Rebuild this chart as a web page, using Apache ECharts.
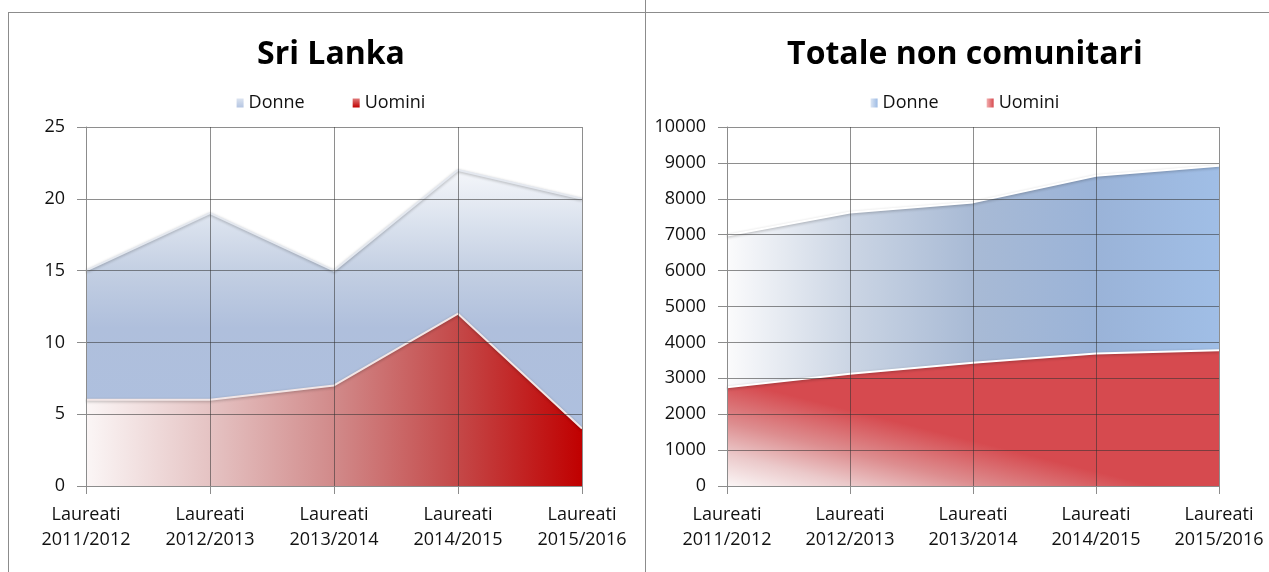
<!DOCTYPE html>
<html>
<head>
<meta charset="utf-8">
<title>Laureati</title>
<script src="https://cdn.jsdelivr.net/npm/echarts@6/dist/echarts.min.js"></script>
<style>
  html, body { margin: 0; padding: 0; background: #fff; overflow: hidden; width: 1269px; height: 572px; }
  .chart { position: absolute; top: 0; height: 572px; }
  #left { left: 0; width: 662px; }
  #right { left: 645px; width: 640px; }
  .frame { position: absolute; background: #8c8c8c; }
</style>
</head>
<body>
<div id="left" class="chart"></div>
<div id="right" class="chart"></div>
<div class="frame" style="left:8px; top:12px; width:1261px; height:1px;"></div>
<div class="frame" style="left:8px; top:12px; width:1px; height:560px;"></div>
<div class="frame" style="left:645px; top:0; width:1px; height:572px;"></div>
<script>
// categorie
var categories = ['Laureati\n2011/2012', 'Laureati\n2012/2013', 'Laureati\n2013/2014', 'Laureati\n2014/2015', 'Laureati\n2015/2016'];

// Sri Lanka
var slDonne = [15, 19, 15, 22, 20];
var slUomini = [6, 6, 7, 12, 4];

// Totale non comunitari
var tncDonne = [6980, 7620, 7900, 8640, 8920];
var tncUomini = [2750, 3130, 3430, 3690, 3780];

var fontFam = '"Open Sans", "Noto Sans", sans-serif';
var gridColor = 'rgba(50,50,50,0.55)';

function lin(x, y, x2, y2, stops) {
  return {
    type: 'linear', x: x, y: y, x2: x2, y2: y2,
    colorStops: stops.map(function (s) { return { offset: s[0], color: s[1] }; })
  };
}

function makeOption(title, donne, uomini, yMax, yInt, gridLeft, gridRight, styles) {
  return {
    animation: false,
    title: {
      text: title, left: 'center', top: 34,
      textStyle: { fontFamily: fontFam, fontSize: 32, fontWeight: 'bold', color: '#000' }
    },
    legend: {
      top: 89, left: 'center', itemGap: 48, itemWidth: 7, itemHeight: 9, icon: 'rect',
      textStyle: { fontFamily: fontFam, fontSize: 18, color: '#111' },
      data: [
        { name: 'Donne', itemStyle: { color: styles.legendDonne } },
        { name: 'Uomini', itemStyle: { color: styles.legendUomini } }
      ]
    },
    grid: { left: gridLeft, right: gridRight, top: 127, bottom: 86 },
    xAxis: {
      type: 'category', data: categories, boundaryGap: false, z: 5,
      axisLine: { lineStyle: { color: '#8c8c8c' } },
      axisTick: { show: true, length: 8, lineStyle: { color: '#8c8c8c' } },
      axisLabel: { fontFamily: fontFam, fontSize: 18, color: '#111', margin: 16, lineHeight: 25, interval: 0 },
      splitLine: { show: true, lineStyle: { color: gridColor } }
    },
    yAxis: {
      type: 'value', min: 0, max: yMax, interval: yInt, z: 5,
      axisLine: { show: true, lineStyle: { color: '#8c8c8c' } },
      axisTick: { show: true, length: 9, lineStyle: { color: '#8c8c8c' } },
      axisLabel: {
        fontFamily: fontFam, fontSize: 18, color: '#111', margin: 21,
        formatter: function (v) { return String(v); }
      },
      splitLine: { show: true, lineStyle: { color: gridColor } }
    },
    series: [
      {
        name: 'Donne', type: 'line', data: donne, showSymbol: false, z: 1,
        itemStyle: { color: styles.legendDonne },
        lineStyle: { color: styles.lineDonne, width: 2, shadowColor: 'rgba(0,0,0,0.3)', shadowBlur: 3, shadowOffsetY: 1 },
        areaStyle: { color: styles.areaDonne, opacity: 1 }
      },
      {
        name: 'Uomini', type: 'line', data: uomini, showSymbol: false, z: 1,
        itemStyle: { color: styles.legendUomini },
        lineStyle: { color: styles.lineUomini, width: 2, shadowColor: 'rgba(0,0,0,0.3)', shadowBlur: 3, shadowOffsetY: 1 },
        areaStyle: { color: styles.areaUomini, opacity: 1 }
      }
    ]
  };
}

var leftChart = echarts.init(document.getElementById('left'));
leftChart.setOption(makeOption('Sri Lanka', slDonne, slUomini, 25, 5, 86, 80, {
  legendDonne: lin(0, 0, 0, 1, [[0, '#dbe3f0'], [1, '#b4c5e2']]),
  legendUomini: lin(0, 0, 0, 1, [[0, '#e07a7a'], [1, '#c00000']]),
  lineDonne: '#e4e8ef',
  lineUomini: '#f2e6e6',
  areaDonne: lin(0, 0, 0, 1, [[0, '#f4f6fa'], [0.15, '#dde4ef'], [0.33, '#c2cee2'], [0.5, '#afbfdc'], [1, '#adc0e0']]),
  areaUomini: lin(0, 0, 1, 0, [[0, '#fbf6f6'], [0.25, '#e5c3c3'], [0.5, '#d18a8a'], [0.75, '#c44848'], [1, '#c00000']])
}));

var rightChart = echarts.init(document.getElementById('right'));
rightChart.setOption(makeOption('Totale non comunitari', tncDonne, tncUomini, 10000, 1000, 82, 66, {
  legendDonne: lin(0, 0, 1, 0, [[0, '#dbe5f3'], [1, '#9dbbe4']]),
  legendUomini: lin(0, 0, 1, 0, [[0, '#f3b0b0'], [1, '#d64a4f']]),
  lineDonne: '#ffffff',
  lineUomini: '#ffffff',
  areaDonne: lin(0, 0, 1, 0, [[0, '#fbfbfc'], [0.25, '#cbd5e4'], [0.5, '#a8bad5'], [0.75, '#9ab3d8'], [1, '#a0bee6']]),
  areaUomini: lin(0, 1, 0.051, 0.26, [[0, '#fbf6f6'], [0.3, '#ebc9ca'], [0.6, '#dd8d8f'], [1, '#d64a4f']])
}));
</script>
</body>
</html>
